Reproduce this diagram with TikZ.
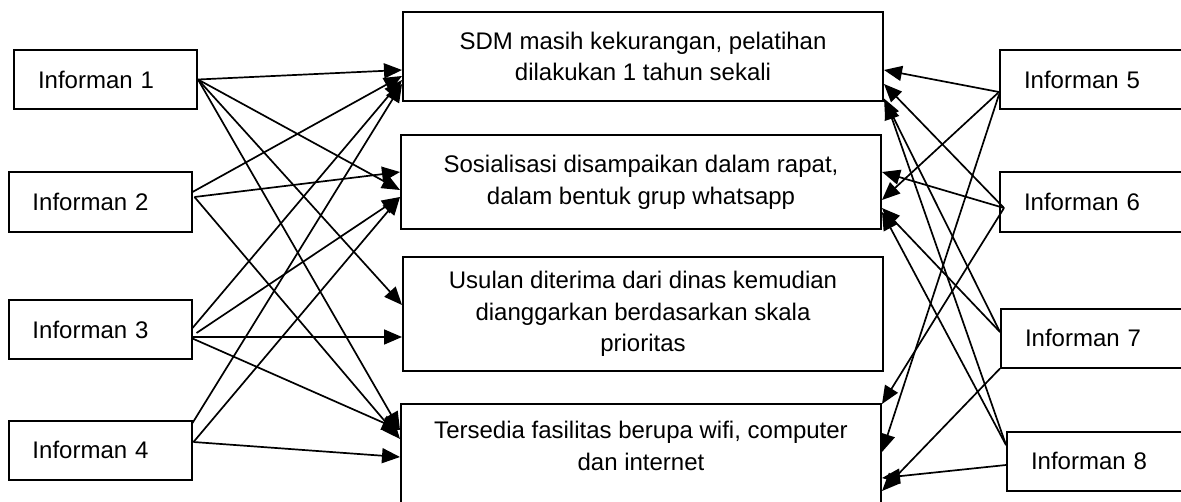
\documentclass[tikz,border=0pt]{standalone}
\usepackage{fontspec}
\setmainfont{Liberation Sans}
\usetikzlibrary{arrows.meta,calc}
\begin{document}
\begin{tikzpicture}[x=0.5pt,y=-0.5pt,
  txt/.style={font=\fontsize{12}{15.8}\selectfont},
  lbox/.style={draw, line width=1pt, txt, text width=67.5pt, inner xsep=12pt, inner ysep=0pt, minimum height=29.5pt, align=left},
  cbox/.style={draw, line width=1pt, txt, minimum width=240pt, inner sep=0pt, align=center},
  ctext/.style={txt, inner sep=0pt, align=center},
  arr/.style={-{Triangle[length=9pt,width=7.5pt]}, line width=0.85pt}]
\useasboundingbox (0,0) rectangle (1181,502);
\clip (0,0) rectangle (1181,502);

% left boxes
\node[lbox] (i1) at (105.5,79.5) {Informan 1};
\node[lbox] (i2) at (100,202) {Informan 2};
\node[lbox] (i3) at (100,329.5) {Informan 3};
\node[lbox] (i4) at (100,450) {Informan 4};

% right boxes
\node[lbox] (i5) at (1091.5,79.5) {Informan 5};
\node[lbox] (i6) at (1091.5,202) {Informan 6};
\node[lbox] (i7) at (1092.5,338) {Informan 7};
\node[lbox] (i8) at (1098.5,461) {Informan 8};

% centre boxes
\node[cbox, minimum height=44.5pt] (A) at (643,56.5) {SDM masih kekurangan, pelatihan\\dilakukan 1 tahun sekali};
\node[cbox, minimum height=47pt] (B) at (641,182) {Sosialisasi disampaikan dalam rapat,\\dalam bentuk grup whatsapp};
\node[cbox, minimum height=57pt] (C) at (643,314) {Usulan diterima dari dinas kemudian\\dianggarkan berdasarkan skala\\prioritas};
\node[cbox, minimum height=65pt, anchor=north] (D) at (641,403) {};
\node[ctext, anchor=north] (Dt) at ($(D.north)+(0,18)$) {Tersedia fasilitas berupa wifi, computer\\dan internet};

% left connectors
\draw[arr] (i1.east) -- ($(A.west)+(0,13.5)$);
\draw[arr] (i1.east) -- ($(B.west)+(0,8)$);
\draw[arr] (i1.east) -- ($(C.west)+(0,-9)$);
\draw[arr] (i1.east) -- ($(D.north west)+(0,27)$);
\draw[arr] ($(i2.east)+(0,-10)$) -- ($(A.west)+(0,19.5)$);
\draw[arr] ($(i2.east)+(2,-5)$) -- ($(B.west)+(0,-10)$);
\draw[arr] ($(i2.east)+(2,-5)$) -- ($(D.north west)+(0,36)$);
\draw[arr] ($(i3.east)+(0,-1.5)$) -- ($(A.west)+(0,23.5)$);
\draw[arr] ($(i3.east)+(4,3.5)$) -- ($(B.west)+(0,15)$);
\draw[arr] ($(i3.east)+(0,7.5)$) -- ($(C.west)+(0,23)$);
\draw[arr] ($(i3.east)+(0,9)$) -- ($(D.north west)+(0,27)$);
\draw[arr] ($(i4.east)+(0,-27)$) -- ($(A.west)+(0,27.5)$);
\draw[arr] ($(i4.east)+(1,-8)$) -- ($(B.west)+(0,15)$);
\draw[arr] ($(i4.east)+(1,-8)$) -- ($(D.north west)+(0,54)$);

% right connectors
\draw[arr] ($(i5.west)+(0,12.5)$) -- ($(A.east)+(0,13.5)$);
\draw[arr] ($(i5.west)+(0,12.5)$) -- ($(B.east)+(0,18)$);
\draw[arr] ($(i5.west)+(0,15)$) -- ($(D.north east)+(0,49)$);
\draw[arr] ($(i6.west)+(5,6)$) -- ($(A.east)+(0,27.5)$);
\draw[arr] ($(i6.west)+(5,6)$) -- ($(B.east)+(0,-10)$);
\draw[arr] ($(i6.west)+(5,6)$) -- ($(D.north east)+(0,1)$);
\draw[arr] ($(i7.west)+(0,-6)$) -- ($(A.east)+(0,42)$);
\draw[arr] ($(i7.west)+(0,-6)$) -- ($(B.east)+(0,26)$);
\draw[arr] (i7.south west) -- ($(D.north east)+(0,88)$);
\draw[arr] ($(i8.west)+(0,-16)$) -- ($(A.east)+(2,45)$);
\draw[arr] ($(i8.west)+(0,-16)$) -- ($(B.east)+(0,30)$);
\draw[arr] ($(i8.west)+(0,4)$) -- ($(D.north east)+(0,75)$);
\end{tikzpicture}
\end{document}
